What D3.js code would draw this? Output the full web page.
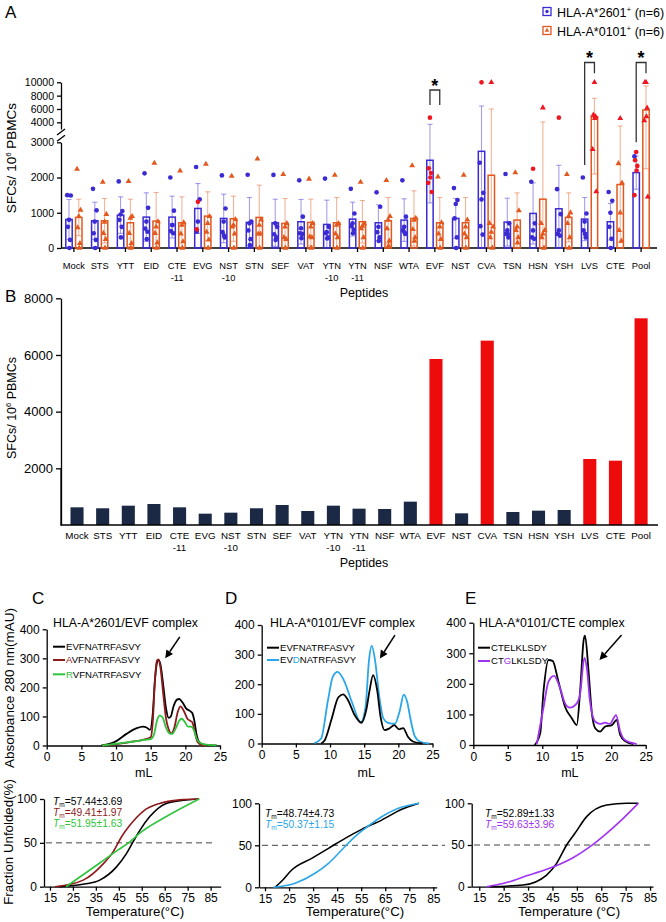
<!DOCTYPE html>
<html><head><meta charset="utf-8">
<script src="https://cdn.jsdelivr.net/npm/d3@7"></script>
<style>
body{margin:0;background:#fff}
</style></head><body>
<svg id="chart" width="666" height="922" xmlns="http://www.w3.org/2000/svg"></svg>
<script>
// ================= DATA =================
const peptides = ["Mock","STS","YTT","EID","CTE-11","EVG","NST-10","STN","SEF","VAT","YTN-10","YTN-11","NSF","WTA","EVF","NST","CVA","TSN","HSN","YSH","LVS","CTE","Pool"];

// Panel A: HLA-A*2601+ donors
const mean2601 = [811,773,933,877,877,1122,839,726,716,745,669,820,716,792,2490,839,2744,735,981,1113,820,745,2140];
const sd2601   = [566,527,519,688,594,707,689,707,670,632,689,481,510,604,1210,566,3706,679,869,1235,613,519,472];
const pts2601 = [
 [1500,1490,800,600,230,0],[1680,1070,750,420,230,0],[1890,1050,950,800,600,300],[2120,1140,750,550,460,250],
 [2000,1060,650,480,420,650],[2300,1380,750,460],[2060,1120,750,450,300,350],[2080,750,700,500,250,80],
 [2075,600,700,390,300,230],[1920,890,560,420,400,280],[1970,600,450,420,300,270],[1680,980,700,620,520,420],
 [1580,1170,600,450,300,200],[1920,890,600,500,400,440],[],[1700,1360,1250,840,300,0],
 [2420,1565,1380,620,380],[2100,700,500,400,300,400],[1880,700,500,300,260],[1670,960,500,400,350],
 [2000,980,750,500,300,400],[1590,1340,1000,600,260,0],[2600]];
const red2601 = [[],[],[],[],[],[1310,530],[],[],[],[],[],[],[],[],[4700,2260,2130,2000,1850,1590],[],[10000],[],[2250],[4700],[],[],[2725,2490,2330,2200,1500]];

// Panel A: HLA-A*0101+ donors
const mean0101 = [868,773,716,764,716,905,830,868,698,726,716,745,773,839,716,716,2065,792,1386,868,4850,1801,5850];
const sd0101   = [518,632,670,811,736,689,641,914,707,660,717,603,660,783,717,717,3935,773,2664,697,2750,1649,3600];
const pts0101 = [
 [2240,1075,900,580,130,0],[1870,960,740,420,250,0],[1890,900,850,420,130,0],[2410,750,600,420,150,0],
 [2190,720,650,400,180,0],[2380,900,700,450,230,0],[2040,810,650,600,400,0],[2530,800,650,400,400,0],
 [2090,700,600,300,250,0],[1960,700,600,320,300,0],[2070,700,650,400,300,0],[1870,690,620,550,300,0],
 [1920,900,800,550,200,60],[2340,850,790,530,300,200],[2020,720,600,400,250,0],[2070,800,600,400,300,0],
 [700,600,450,300,0],[2140,1060,600,500,300,150],[700,500,400,300,0],[2090,1000,900,700,300,0],
 [],[2400,1850,1000,500,200],[]];
const red0101 = [[],[],[],[],[],[],[],[],[],[],[],[],[],[],[],[],[10000],[],[6190],[],[10000,5100,4850,4600,2800,1600],[4600],[10000,10000,6150,4850,4250,1450]];

// significance brackets (values on the SFC axis)
const sigPeptides = ["EVF","LVS","Pool"];
const sigTop   = [8845,12970,12970];
const sigLeft  = [6600,2356,3000];
const sigRight = [6600,11350,11350];

// Panel B: pooled SFCs
const pooledSFC = [624,590,682,741,624,400,435,590,706,494,682,576,565,824,5859,412,6506,459,506,529,2329,2270,7294];
const positivePeptides = ["EVF","CVA","LVS","CTE","Pool"];

// Panel C: HLA-A*2601/EVF refolding (mL, mAU)
const C_EVF = [[7.9,0],[9.4,8],[10.1,16],[11.5,40],[13,60],[13.9,65],[14.4,62],[14.9,54],[15.3,110],[15.6,220],[15.9,285],[16.1,295],[16.4,280],[16.8,210],[17.2,130],[17.6,95],[17.9,100],[18.3,135],[18.8,158],[19.1,160],[19.6,148],[20.1,128],[20.6,120],[21.0,112],[21.3,85],[21.6,40],[22.0,12],[22.6,3],[24.5,0]];
const C_AVF = [[8,0],[10,5],[12,12],[14,20],[15.0,28],[15.3,80],[15.6,220],[15.9,292],[16.1,296],[16.4,270],[16.8,180],[17.2,95],[17.6,55],[18.0,42],[18.4,60],[18.9,115],[19.3,135],[19.8,118],[20.3,92],[20.7,85],[21.0,80],[21.3,55],[21.7,15],[22.2,3],[23,0]];
const C_RVF = [[8,0],[9,3],[10,6],[11,9],[12,12],[13,15],[14,19],[15,22],[15.5,40],[15.9,85],[16.3,103],[16.7,98],[17.2,62],[17.7,42],[18.1,40],[18.6,58],[19.1,85],[19.5,92],[19.9,82],[20.4,65],[20.8,65],[21.2,55],[21.6,25],[22.2,8],[23,3],[24.5,0]];
// Panel D: HLA-A*0101/EVF
const D_EVF = [[8.7,0],[9.2,10],[10.2,80],[11.2,155],[11.9,166],[12.6,148],[13.6,96],[14.6,70],[15.3,113],[15.8,180],[16.3,231],[16.9,180],[17.4,90],[18.0,45],[18.7,51],[19.4,62],[20.1,48],[20.7,52],[21.4,23],[22.2,6],[23.5,0]];
const D_EVD = [[7.7,1],[8.7,17],[9.7,146],[10.4,225],[11.1,242],[12.0,215],[13.2,140],[14.5,72],[15.2,124],[15.7,280],[16.1,330],[16.6,280],[17.2,160],[17.8,85],[18.5,70],[19.5,67],[20.2,110],[20.8,165],[21.3,140],[21.8,80],[22.4,25],[23.2,6],[24.5,0]];
// Panel E: HLA-A*0101/CTE
const E_CTE = [[8.9,0],[9.7,38],[10.2,180],[10.9,278],[11.5,275],[12.3,212],[13.3,125],[14.3,87],[15.0,65],[15.5,180],[16.0,343],[16.2,358],[16.7,245],[17.2,103],[17.7,54],[18.4,44],[19.1,60],[20.1,65],[20.8,82],[21.3,33],[22.0,13],[23.2,3]];
const E_CTG = [[9.2,2],[10.2,125],[10.9,207],[11.7,226],[12.6,185],[13.3,136],[14.0,122],[15.0,136],[15.5,169],[16.1,285],[16.5,245],[16.9,147],[17.7,76],[18.4,69],[19.1,73],[19.8,69],[20.7,98],[21.3,44],[22.0,16],[23.7,3]];

// Thermal melting (°C, % unfolded)
const M_C_EVF = [[19,0],[30,3],[36.7,7.5],[44,22.6],[48.3,37.7],[51.2,51],[54.1,64],[58.5,80],[65.7,95],[74.4,99],[80,100]];
const M_C_AVF = [[17.2,0],[29.5,7.5],[38.2,26],[42.6,40],[46.2,57],[49.8,70],[55.6,86],[62.8,95],[71.5,99],[80,100]];
const M_C_RVF = [[22,0],[36.7,27],[44.7,42],[49.8,51],[54.1,61],[65.7,80],[80,100]];
const M_D_EVF = [[19.2,0],[22.5,9],[26.1,20.6],[34.4,34.5],[41.4,46.4],[48.3,58.3],[55.2,69],[63.5,80],[71.9,92.9],[79,100]];
const M_D_EVD = [[18.5,0],[27.5,4.8],[35.8,16.7],[41.4,28.6],[46.9,44.4],[52.4,60.3],[56.6,70],[63.5,84],[70.5,94],[79,100]];
const M_E_CTE = [[19.4,0],[33,2],[42.6,14],[46.7,28],[50.8,50],[54.2,64],[59,84],[67.2,98],[75.4,100],[80.2,100]];
const M_E_CTG = [[18,0],[26.2,5],[34.4,13],[42.6,21],[48,27],[53.6,35],[60.4,48],[67.2,64],[74,82],[80.2,100]];

const chromTicksX = [0,5,10,15,20,25];
const chromTicksY = [0,100,200,300,400];
const meltTicksX = [15,25,35,45,55,65,75,85];
const meltTicksY = [0,50,100];

// ================= DRAW =================
const F = '"Liberation Sans", Arial, Helvetica, sans-serif';
const BLUE = "#3b2bd2", ORANGE = "#e2581e", RED = "#ee1620";
const svg = d3.select("#chart");
svg.append("rect").attr("width",666).attr("height",922).attr("fill","#fff");

function text(g, x, y, s, size, o = {}) {
  const t = g.append("text").attr("x", x).attr("y", y).attr("font-family", F)
    .attr("font-size", size).attr("fill", o.fill || "#000").text(s);
  if (o.anchor) t.attr("text-anchor", o.anchor);
  if (o.weight) t.attr("font-weight", o.weight);
  return t;
}
function styleAxis(g, size) {
  g.attr("font-family", F).attr("font-size", size);
  g.selectAll("text").attr("fill", "#000");
  g.selectAll("line").attr("stroke", "#000").attr("stroke-width", 1.3);
  g.selectAll(".domain").attr("stroke", "#000").attr("stroke-width", 1.3);
}
function rotTitle(g, x, y, size) {
  return g.append("text").attr("transform", `translate(${x},${y}) rotate(-90)`)
    .attr("text-anchor", "middle").attr("font-family", F).attr("font-size", size).attr("fill", "#000");
}
const splitLabel = s => s.split(/(?=-\d)/);

// ---------- Panel A ----------
const gA = svg.append("g");
const xA = d3.scaleBand().domain(peptides).range([61, 654]);
const yLow = d3.scaleLinear().domain([0, 3000]).range([248, 142.3]);
const yHigh = d3.scaleLinear().domain([3000, 10000]).range([129, 82.3]);
const yA = d3.scaleLinear().domain([0, 3000, 3001, 10000]).range([248, 142.3, 129, 82.3]);

styleAxis(gA.append("g").attr("transform", "translate(61,0)")
  .call(d3.axisLeft(yLow).tickValues([0,1000,2000,3000]).tickSize(4).tickSizeOuter(0).tickFormat(d3.format("d"))), 10.5);
styleAxis(gA.append("g").attr("transform", "translate(61,0)")
  .call(d3.axisLeft(yHigh).tickValues([4000,6000,8000,10000]).tickSize(4).tickSizeOuter(0).tickFormat(d3.format("d"))), 10.5);
// axis break marks
[[yA(3000) - 4], [yA(3001) + 3]].forEach(([yy]) => {
  gA.append("line").attr("x1", 57).attr("x2", 65).attr("y1", yy + 3).attr("y2", yy - 3).attr("stroke", "#000").attr("stroke-width", 1.3);
});
// x axis
const xAxA = gA.append("g").attr("transform", "translate(0,248)")
  .call(d3.axisBottom(xA).tickSize(4).tickSizeOuter(0).tickFormat(""));
styleAxis(xAxA, 10);
xAxA.select(".domain").remove();
gA.append("line").attr("x1", 61).attr("x2", 657).attr("y1", 248).attr("y2", 248).attr("stroke", "#000").attr("stroke-width", 1.3);
peptides.forEach(p => {
  const cx = xA(p) + xA.bandwidth() / 2;
  splitLabel(p).forEach((s, k) => text(gA, cx, 269 + k * 11.5, s, 9.3, { anchor: "middle" }));
});
text(gA, 364, 297, "Peptides", 12.5, { anchor: "middle" });
const ytA = rotTitle(gA, 15.5, 158, 13.5);
ytA.append("tspan").text("SFCs/ 10");
ytA.append("tspan").attr("font-size", 8).attr("dy", -5).text("6");
ytA.append("tspan").attr("dy", 5).text(" PBMCs");
text(gA, 5, 18, "A", 17);

const seriesA = [
  { mean: mean2601, sd: sd2601, pts: pts2601, red: red2601, color: BLUE, dx: -4.9, sym: d3.symbolCircle },
  { mean: mean0101, sd: sd0101, pts: pts0101, red: red0101, color: ORANGE, dx: 4.9, sym: d3.symbolTriangle }
];
const jit = [-1.8, 1.8, 0, -1.1, 1.1, 0.4];
const bwA = 6.4;
seriesA.forEach(s => {
  peptides.forEach((p, i) => {
    const cx = xA(p) + xA.bandwidth() / 2 + s.dx;
    const m = s.mean[i], sd = s.sd[i];
    gA.append("rect").attr("x", cx - bwA / 2).attr("y", yA(m)).attr("width", bwA).attr("height", yA(0) - yA(m))
      .attr("fill", "none").attr("stroke", s.color).attr("stroke-width", 1.5);
    const lo = Math.max(0, m - sd), hi = m + sd;
    const eg = gA.append("g").attr("stroke", s.color).attr("stroke-opacity", 0.45).attr("stroke-width", 1.1);
    eg.append("line").attr("x1", cx).attr("x2", cx).attr("y1", yA(lo)).attr("y2", yA(hi));
    eg.append("line").attr("x1", cx - 2.6).attr("x2", cx + 2.6).attr("y1", yA(hi)).attr("y2", yA(hi));
    if (lo > 0) eg.append("line").attr("x1", cx - 2.6).attr("x2", cx + 2.6).attr("y1", yA(lo)).attr("y2", yA(lo));
    const sym = d3.symbol().type(s.sym).size(s.sym === d3.symbolCircle ? 17 : 15);
    s.pts[i].forEach((v, j) => gA.append("path").attr("d", sym())
      .attr("transform", `translate(${cx + jit[j % 6]},${yA(v)})`).attr("fill", s.color));
    s.red[i].forEach((v, j) => gA.append("path").attr("d", sym())
      .attr("transform", `translate(${cx + jit[(j + 2) % 6]},${yA(v)})`).attr("fill", RED));
  });
});
sigPeptides.forEach((p, k) => {
  const c = xA(p) + xA.bandwidth() / 2;
  const x1 = c - 4.9, x2 = c + 4.9;
  gA.append("path").attr("d", `M${x1},${yA(sigLeft[k])}V${yA(sigTop[k])}H${x2}V${yA(sigRight[k])}`)
    .attr("fill", "none").attr("stroke", "#333").attr("stroke-width", 1.3);
  text(gA, c, yA(sigTop[k]) + 1.5, "*", 18, { anchor: "middle", weight: "bold" });
});
[{ c: BLUE, lab: "HLA-A*2601", y: 7.5, sym: d3.symbolCircle }, { c: ORANGE, lab: "HLA-A*0101", y: 26.5, sym: d3.symbolTriangle }]
  .forEach(L => {
    gA.append("rect").attr("x", 543).attr("y", L.y).attr("width", 8).attr("height", 8)
      .attr("fill", "none").attr("stroke", L.c).attr("stroke-width", 1.3);
    gA.append("path").attr("d", d3.symbol().type(L.sym).size(9)()).attr("transform", `translate(547,${L.y + 4})`).attr("fill", L.c);
    const t = text(gA, 557, L.y + 9, L.lab, 12.5);
    t.append("tspan").attr("font-size", 8).attr("dy", -5).text("+");
    t.append("tspan").attr("dy", 5).text(" (n=6)");
  });

// ---------- Panel B ----------
const gB = svg.append("g");
const xB = d3.scaleBand().domain(peptides).range([64.2, 653.9]).paddingInner(0.49).paddingOuter(0.245);
const yB = d3.scaleLinear().domain([0, 8000]).range([525, 298.3]);
gB.selectAll("rect.bar").data(peptides).join("rect")
  .attr("x", p => xB(p)).attr("width", xB.bandwidth())
  .attr("y", (p, i) => yB(pooledSFC[i])).attr("height", (p, i) => yB(0) - yB(pooledSFC[i]))
  .attr("fill", p => positivePeptides.includes(p) ? "#ed0b0b" : "#1b2945");
styleAxis(gB.append("g").attr("transform", "translate(61,0)")
  .call(d3.axisLeft(yB).tickValues([2000,4000,6000,8000]).tickSize(5).tickSizeOuter(0).tickFormat(d3.format("d"))), 13);
gB.append("line").attr("x1", 61).attr("x2", 61).attr("y1", yB(2000)).attr("y2", yB(0)).attr("stroke", "#000").attr("stroke-width", 1.3);
gB.append("line").attr("x1", 60.4).attr("x2", 658).attr("y1", 525).attr("y2", 525).attr("stroke", "#000").attr("stroke-width", 1.5);
peptides.forEach(p => {
  const cx = xB(p) + xB.bandwidth() / 2;
  splitLabel(p).forEach((s, k) => text(gB, cx, 539 + k * 11.5, s, 9.8, { anchor: "middle" }));
});
text(gB, 364, 567, "Peptides", 12.5, { anchor: "middle" });
const ytB = rotTitle(gB, 15.5, 408, 12.5);
ytB.append("tspan").text("SFCs/ 10");
ytB.append("tspan").attr("font-size", 7.5).attr("dy", -5).text("6");
ytB.append("tspan").attr("dy", 5).text(" PBMCs");
text(gB, 5, 302, "B", 17);

// ---------- Chromatograms ----------
function chrom(o) {
  const g = svg.append("g");
  const x = d3.scaleLinear().domain([0, 25]).range([o.x0, o.x1]);
  const y = d3.scaleLinear().domain([0, 400]).range([o.y0, o.y1]);
  styleAxis(g.append("g").attr("transform", `translate(0,${o.y0})`)
    .call(d3.axisBottom(x).tickValues(chromTicksX).tickSize(4).tickSizeOuter(0)), 12);
  styleAxis(g.append("g").attr("transform", `translate(${o.x0},0)`)
    .call(d3.axisLeft(y).tickValues(chromTicksY).tickSize(4).tickSizeOuter(0)), 12);
  const line = d3.line().x(d => x(d[0])).y(d => y(d[1])).curve(d3.curveMonotoneX);
  o.series.forEach(s => g.append("path").attr("d", line(s.data)).attr("fill", "none")
    .attr("stroke", s.color).attr("stroke-width", 1.8).attr("stroke-linejoin", "round"));
  text(g, x(o.mlAt), 777, "mL", 12.5, { anchor: "middle" });
  text(g, o.titleX, 627, o.title, 12.3);
  o.legend.forEach((si, k) => {
    const s = o.series[si];
    const ly = o.legY[k];
    g.append("line").attr("x1", o.legX).attr("x2", o.legX + 12).attr("y1", ly).attr("y2", ly)
      .attr("stroke", s.color).attr("stroke-width", 2);
    const t = text(g, o.legX + 13, ly + 3.4, "", 9.6);
    const q = s.seq, m = s.mut;
    if (m < 0) t.append("tspan").text(q);
    else {
      t.append("tspan").text(q.slice(0, m));
      t.append("tspan").attr("fill", s.color).text(q[m]);
      t.append("tspan").text(q.slice(m + 1));
    }
  });
  const [tx, ty, hx, hy] = [x(o.arrow[0]), y(o.arrow[1]), x(o.arrow[2]), y(o.arrow[3])];
  const ang = Math.atan2(hy - ty, hx - tx), L = 8, W = 4;
  const bx = hx - L * Math.cos(ang), by = hy - L * Math.sin(ang);
  g.append("line").attr("x1", tx).attr("y1", ty).attr("x2", bx).attr("y2", by).attr("stroke", "#000").attr("stroke-width", 1.5);
  g.append("path").attr("d", `M${hx},${hy}L${bx + W * Math.sin(ang)},${by - W * Math.cos(ang)}L${bx - W * Math.sin(ang)},${by + W * Math.cos(ang)}Z`).attr("fill", "#000");
  text(g, o.letterX, 604, o.letter, 17);
  return g;
}
chrom({ x0: 46.7, x1: 220, y0: 745.5, y1: 629.3, mlAt: 14, titleX: 53, title: "HLA-A*2601/EVF complex",
  legX: 53, legY: [646.7, 660, 674.3], legend: [0, 1, 2], arrow: [19.2, 374, 17.1, 300], letter: "C", letterX: 32,
  series: [{ data: C_EVF, color: "#000", seq: "EVFNATRFASVY", mut: -1 },
           { data: C_AVF, color: "#8e1b1b", seq: "AVFNATRFASVY", mut: 0 },
           { data: C_RVF, color: "#2fc43c", seq: "RVFNATRFASVY", mut: 0 }] });
chrom({ x0: 261.7, x1: 432.5, y0: 743.5, y1: 625, mlAt: 15.3, titleX: 270, title: "HLA-A*0101/EVF complex",
  legX: 267, legY: [647.7, 660], legend: [1, 0], arrow: [19.5, 366, 17.3, 287], letter: "D", letterX: 225,
  series: [{ data: D_EVD, color: "#2aa7ea", seq: "EVDNATRFASVY", mut: 2 },
           { data: D_EVF, color: "#000", seq: "EVFNATRFASVY", mut: -1 }] });
chrom({ x0: 473.3, x1: 645.7, y0: 745, y1: 622.7, mlAt: 14, titleX: 479, title: "HLA-A*0101/CTE complex",
  legX: 478, legY: [647.7, 661], legend: [0, 1], arrow: [21.5, 360, 18.3, 278], letter: "E", letterX: 465,
  series: [{ data: E_CTE, color: "#000", seq: "CTELKLSDY", mut: -1 },
           { data: E_CTG, color: "#a033f2", seq: "CTGLKLSDY", mut: 2 }] });

// ---------- Melting curves ----------
function melt(o) {
  const g = svg.append("g");
  const x = d3.scaleLinear().domain(o.xDom).range([o.xa, o.xb]);
  const y = d3.scaleLinear().domain([0, 100]).range([o.y0, o.y1]);
  styleAxis(g.append("g").attr("transform", `translate(0,${o.y0})`)
    .call(d3.axisBottom(x).tickValues(meltTicksX).tickSize(4).tickSizeOuter(0)), 12);
  styleAxis(g.append("g").attr("transform", `translate(${o.xa},0)`)
    .call(d3.axisLeft(y).tickValues(meltTicksY).tickSize(4).tickSizeOuter(0)), 12);
  g.append("line").attr("x1", o.dash[0]).attr("x2", o.dash[1]).attr("y1", y(50)).attr("y2", y(50))
    .attr("stroke", "#444").attr("stroke-width", 1).attr("stroke-dasharray", "6,4");
  const line = d3.line().x(d => x(d[0])).y(d => y(d[1])).curve(d3.curveMonotoneX);
  o.series.forEach(s => g.append("path").attr("d", line(s.data)).attr("fill", "none")
    .attr("stroke", s.color).attr("stroke-width", 1.6));
  o.series.forEach((s, k) => {
    const t = text(g, o.tmX, o.tmY[k], "", 10.3, { fill: s.color });
    t.append("tspan").attr("font-style", "italic").text("T");
    t.append("tspan").attr("font-size", 6.5).attr("dy", 2).text("m");
    t.append("tspan").attr("dy", -2).text("=" + s.tm);
  });
  text(g, o.tTitleX, 916, o.tTitle, 13.3, { anchor: "middle" });
  return g;
}
melt({ xDom: [12.4, 89.4], xa: 44, xb: 220.7, y0: 886.7, y1: 799, dash: [46, 213], tmX: 53, tmY: [805, 815.5, 826.5],
  tTitle: "Temperature(°C)", tTitleX: 135,
  series: [{ data: M_C_EVF, color: "#000", tm: "57.44±3.69" }, { data: M_C_AVF, color: "#8e1b1b", tm: "49.41±1.97" },
           { data: M_C_RVF, color: "#2fc43c", tm: "51.95±1.63" }] });
melt({ xDom: [12.5, 86.4], xa: 259, xb: 436.7, y0: 887.3, y1: 803.3, dash: [262, 445], tmX: 265, tmY: [816.5, 827.5],
  tTitle: "Temperature(°C)", tTitleX: 355,
  series: [{ data: M_D_EVF, color: "#000", tm: "48.74±4.73" }, { data: M_D_EVD, color: "#2aa7ea", tm: "50.37±1.15" }] });
melt({ xDom: [11.9, 86.2], xa: 471.7, xb: 653, y0: 886.7, y1: 803.3, dash: [474, 650], tmX: 485, tmY: [816.5, 827.5],
  tTitle: "Temperature (°C)", tTitleX: 569,
  series: [{ data: M_E_CTE, color: "#000", tm: "52.89±1.33" }, { data: M_E_CTG, color: "#a033f2", tm: "59.63±3.96" }] });

rotTitle(svg, 14, 688, 13.5).text("Absorbance 280 nm(mAU)");
rotTitle(svg, 12.5, 842, 13.3).text("Fraction Unfolded(%)");
</script>
</body></html>
